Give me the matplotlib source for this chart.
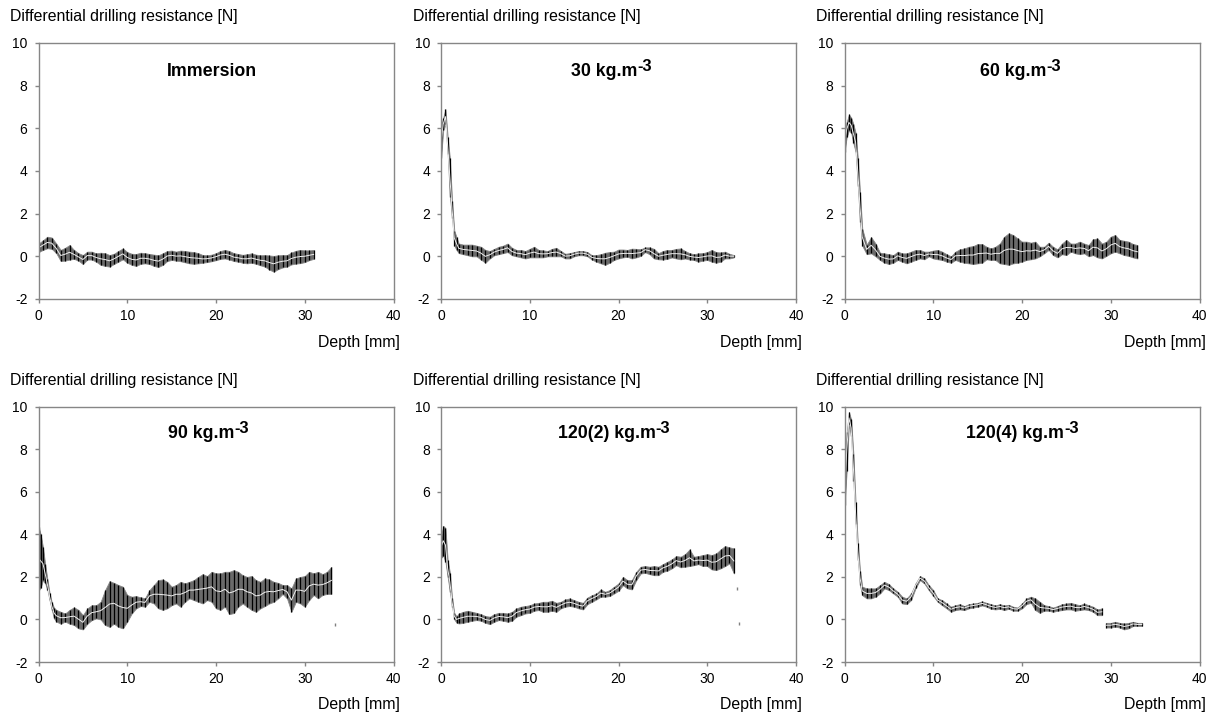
import numpy as np
import matplotlib
matplotlib.use('Agg')
import matplotlib.pyplot as plt

plt.rcParams['font.family'] = ['Liberation Sans', 'DejaVu Sans']
plt.rcParams['axes.unicode_minus'] = False

# depth grids [mm]: fine near the surface peak, then every 0.5 mm
head = [0, 0.25, 0.5, 0.75, 1.0, 1.25, 1.5, 1.75]

# --- Immersion ---
imm_depth = np.arange(0, 31.01, 0.5)
imm_hi = [0.60, 0.75, 0.92, 0.88, 0.60, 0.30, 0.40, 0.53, 0.30, 0.15,
          0.06, 0.22, 0.22, 0.14, 0.17, 0.15, 0.06, 0.12, 0.25, 0.37,
          0.20, 0.12, 0.11, 0.17, 0.15, 0.11, 0.08, 0.05, 0.14, 0.25,
          0.27, 0.22, 0.27, 0.25, 0.22, 0.20, 0.15, 0.06, 0.05, 0.08,
          0.15, 0.25, 0.30, 0.25, 0.15, 0.11, 0.07, 0.10, 0.14, 0.08,
          0.05, 0.06, 0.04, 0.02, 0.05, 0.06, 0.06, 0.18, 0.26, 0.30,
          0.28, 0.28, 0.30]
imm_lo = [0.20, 0.30, 0.38, 0.35, 0.15, -0.22, -0.20, -0.15, -0.12, -0.20,
          -0.36, -0.15, -0.15, -0.25, -0.40, -0.45, -0.48, -0.36, -0.25, -0.14,
          -0.30, -0.40, -0.45, -0.35, -0.33, -0.36, -0.45, -0.50, -0.40, -0.22,
          -0.17, -0.20, -0.23, -0.28, -0.33, -0.35, -0.33, -0.30, -0.27, -0.23,
          -0.18, -0.12, -0.10, -0.15, -0.22, -0.25, -0.30, -0.33, -0.30, -0.35,
          -0.42, -0.48, -0.62, -0.72, -0.60, -0.52, -0.48, -0.38, -0.34, -0.32,
          -0.27, -0.18, -0.12]

# --- 30 kg/m3 ---
d30_depth = np.r_[head, np.arange(2, 33.01, 0.5)]
d30_hi = [6.1, 6.5, 6.9, 5.6, 4.6, 2.6, 1.2, 0.9,
          0.6, 0.55, 0.55, 0.55, 0.5, 0.45, 0.3, 0.25, 0.35, 0.45,
          0.5, 0.6, 0.4, 0.3, 0.3, 0.25, 0.35, 0.45, 0.3, 0.28,
          0.25, 0.35, 0.4, 0.25, 0.12, 0.15, 0.2, 0.25, 0.25, 0.2,
          0.05, 0.06, 0.1, 0.17, 0.2, 0.22, 0.32, 0.32, 0.3, 0.36,
          0.35, 0.33, 0.42, 0.42, 0.35, 0.15, 0.25, 0.3, 0.3, 0.35,
          0.37, 0.25, 0.15, 0.1, 0.14, 0.15, 0.2, 0.3, 0.2, 0.18,
          0.22, 0.12, 0.06]
d30_lo = [4.6, 5.9, 6.2, 4.8, 2.8, 1.8, 0.5, 0.3,
          0.15, 0.1, 0.05, 0.0, 0.0, -0.15, -0.3, -0.1, 0.05, 0.1,
          0.15, 0.2, 0.05, 0.0, -0.05, -0.1, -0.05, -0.05, -0.05, -0.05,
          0.0, 0.0, 0.0, 0.0, -0.1, -0.1, 0.0, 0.05, 0.05, 0.0,
          -0.15, -0.25, -0.33, -0.4, -0.3, -0.17, -0.1, -0.05, -0.02, -0.1,
          -0.05, 0.02, 0.2, 0.1, -0.1, -0.14, -0.15, -0.12, -0.05, -0.1,
          -0.14, -0.1, -0.15, -0.17, -0.25, -0.2, -0.17, -0.25, -0.3, -0.25,
          -0.1, -0.1, -0.05]

# --- 60 kg/m3 ---
d60_depth = np.r_[head, np.arange(2, 33.01, 0.5)]
d60_hi = [5.8, 6.3, 6.65, 6.5, 6.2, 5.8, 4.6, 3.0,
          1.3, 0.55, 0.9, 0.6, 0.17, 0.14, 0.1, 0.06, 0.22, 0.14,
          0.14, 0.22, 0.3, 0.3, 0.22, 0.22, 0.27, 0.3, 0.22, 0.1,
          0.0, 0.22, 0.33, 0.37, 0.45, 0.48, 0.58, 0.58, 0.45, 0.37,
          0.45, 0.6, 0.92, 1.08, 1.0, 0.84, 0.69, 0.69, 0.64, 0.69,
          0.45, 0.45, 0.64, 0.45, 0.33, 0.6, 0.77, 0.6, 0.6, 0.69,
          0.6, 0.53, 0.8, 0.84, 0.6, 0.69, 0.92, 1.0, 0.77, 0.73,
          0.69, 0.58, 0.53]
d60_lo = [4.9, 5.6, 5.9, 5.8, 5.3, 4.9, 3.3, 1.6,
          0.5, 0.1, 0.14, 0.0, -0.17, -0.3, -0.36, -0.3, -0.17, -0.25,
          -0.33, -0.25, -0.17, -0.1, -0.14, 0.0, -0.1, -0.14, -0.17, -0.25,
          -0.3, -0.17, -0.25, -0.3, -0.33, -0.36, -0.33, -0.3, -0.14, -0.17,
          -0.17, -0.33, -0.36, -0.4, -0.33, -0.3, -0.25, -0.17, -0.14, -0.1,
          0.0, 0.14, 0.3, 0.06, -0.05, 0.1, 0.06, 0.22, 0.14, 0.1,
          0.14, 0.0, 0.06, -0.05, -0.1, 0.02, 0.14, 0.22, 0.14, 0.06,
          0.02, -0.05, -0.1]

# --- 90 kg/m3 ---
d90_depth = np.r_[head, np.arange(2, 33.01, 0.5)]
d90_hi = [4.36, 4.0, 3.4, 2.6, 1.9, 1.25, 0.8, 0.55,
          0.45, 0.36, 0.28, 0.45, 0.57, 0.45, 0.2, 0.52, 0.67, 0.67,
          0.83, 1.38, 1.8, 1.72, 1.62, 1.54, 1.15, 1.07, 1.1, 1.04,
          1.0, 1.38, 1.62, 1.85, 1.88, 1.77, 1.54, 1.62, 1.77, 1.7,
          1.77, 1.85, 2.0, 2.13, 2.04, 2.24, 2.17, 2.17, 2.24, 2.24,
          2.32, 2.24, 2.08, 2.0, 2.04, 1.85, 1.77, 1.93, 1.88, 1.77,
          1.72, 1.62, 1.62, 1.46, 1.93, 2.0, 2.04, 2.24, 2.17, 2.24,
          2.13, 2.24, 2.47]
d90_lo = [1.38, 1.5, 1.85, 1.7, 1.4, 0.9, 0.45, 0.05,
          -0.1, -0.2, -0.1, -0.2, -0.26, -0.42, -0.47, -0.2, -0.03, 0.05,
          0.0, -0.26, -0.35, -0.2, -0.35, -0.42, -0.1, 0.28, 0.52, 0.63,
          0.6, 0.83, 0.75, 0.52, 0.45, 0.52, 0.67, 0.75, 0.6, 0.83,
          0.99, 0.91, 0.83, 0.75, 0.91, 0.83, 0.52, 0.45, 0.6, 0.25,
          0.3, 0.6, 0.75, 0.6, 0.45, 0.36, 0.52, 0.63, 0.75, 0.83,
          0.99, 1.2, 0.99, 0.36, 0.83, 0.75, 0.6, 0.91, 1.15, 0.99,
          1.15, 1.2, 1.2]
d90_stray_depth = [33.4]
d90_stray_val = [-0.25]

# --- 120(2) kg/m3 ---
d1202_depth = np.r_[head, np.arange(2, 33.01, 0.5)]
d1202_hi = [3.9, 4.4, 4.3, 2.8, 2.2, 1.0, 0.3, 0.15,
            0.28, 0.36, 0.41, 0.36, 0.31, 0.25, 0.16, 0.13, 0.25, 0.31,
            0.31, 0.28, 0.36, 0.52, 0.6, 0.63, 0.67, 0.75, 0.78, 0.83,
            0.83, 0.88, 0.78, 0.83, 0.94, 0.99, 0.91, 0.83, 0.78, 1.03,
            1.14, 1.22, 1.41, 1.3, 1.38, 1.54, 1.69, 2.0, 1.85, 1.85,
            2.24, 2.48, 2.51, 2.48, 2.51, 2.48, 2.6, 2.71, 2.82, 2.98,
            2.95, 3.07, 3.29, 2.95, 2.98, 3.03, 3.07, 3.03, 3.1, 3.29,
            3.45, 3.39, 3.34]
d1202_lo = [2.9, 3.0, 2.7, 2.0, 1.3, 0.6, 0.0, -0.15,
            -0.19, -0.16, -0.11, -0.06, -0.03, -0.06, -0.16, -0.22, -0.11, -0.03,
            -0.06, -0.11, -0.06, 0.13, 0.2, 0.28, 0.31, 0.41, 0.44, 0.36,
            0.36, 0.41, 0.36, 0.52, 0.6, 0.63, 0.6, 0.52, 0.47, 0.72,
            0.83, 0.94, 1.07, 1.07, 1.1, 1.22, 1.35, 1.61, 1.46, 1.41,
            1.85, 2.16, 2.19, 2.13, 2.08, 2.08, 2.24, 2.29, 2.4, 2.55,
            2.45, 2.48, 2.51, 2.55, 2.6, 2.51, 2.51, 2.35, 2.32, 2.4,
            2.51, 2.63, 2.16]
d1202_stray_depth = [33.3, 33.6]
d1202_stray_val = [1.45, -0.2]

# --- 120(4) kg/m3 (two measured segments) ---
d1204_depth = np.r_[head, np.arange(2, 29.01, 0.5)]
d1204_hi = [6.8, 8.8, 9.75, 9.4, 7.8, 5.5, 3.6, 2.3,
            1.54, 1.46, 1.46, 1.46, 1.61, 1.77, 1.66, 1.46, 1.3, 1.07,
            0.99, 1.22, 1.69, 2.04, 1.93, 1.61, 1.38, 0.99, 0.91, 0.75,
            0.6, 0.67, 0.72, 0.63, 0.72, 0.75, 0.78, 0.85, 0.78, 0.72,
            0.66, 0.72, 0.66, 0.69, 0.6, 0.56, 0.75, 0.99, 1.07, 0.99,
            0.83, 0.67, 0.63, 0.56, 0.63, 0.72, 0.75, 0.78, 0.72, 0.67,
            0.75, 0.67, 0.6, 0.47, 0.52]
d1204_lo = [5.4, 7.0, 9.2, 8.6, 6.5, 4.5, 2.8, 1.6,
            1.14, 0.99, 0.99, 1.07, 1.22, 1.46, 1.38, 1.22, 1.07, 0.75,
            0.72, 0.91, 1.46, 1.85, 1.69, 1.38, 1.1, 0.83, 0.67, 0.52,
            0.36, 0.44, 0.47, 0.44, 0.52, 0.56, 0.6, 0.66, 0.6, 0.5,
            0.47, 0.5, 0.44, 0.5, 0.41, 0.41, 0.52, 0.72, 0.78, 0.44,
            0.31, 0.41, 0.41, 0.36, 0.41, 0.44, 0.47, 0.47, 0.41, 0.44,
            0.47, 0.44, 0.36, 0.2, 0.2]
d1204_tail_depth = np.arange(29.5, 33.51, 0.5)
d1204_tail_hi = [-0.16, -0.16, -0.11, -0.16, -0.19, -0.16, -0.11, -0.16, -0.16]
d1204_tail_lo = [-0.38, -0.38, -0.34, -0.38, -0.47, -0.42, -0.31, -0.31, -0.31]

# panel titles: (main text, superscript)
titles = [('Immersion', ''), ('30 kg.m', '-3'), ('60 kg.m', '-3'),
          ('90 kg.m', '-3'), ('120(2) kg.m', '-3'), ('120(4) kg.m', '-3')]
title_x = [0.489, 0.481, 0.497, 0.48, 0.487, 0.501]
series = [
    [(imm_depth, imm_lo, imm_hi)],
    [(d30_depth, d30_lo, d30_hi)],
    [(d60_depth, d60_lo, d60_hi)],
    [(d90_depth, d90_lo, d90_hi)],
    [(d1202_depth, d1202_lo, d1202_hi)],
    [(d1204_depth, d1204_lo, d1204_hi), (d1204_tail_depth, d1204_tail_lo, d1204_tail_hi)],
]
strays = [None, None, None, (d90_stray_depth, d90_stray_val), (d1202_stray_depth, d1202_stray_val), None]


def draw_band(ax, depth, lo, hi):
    lo = np.asarray(lo)
    hi = np.asarray(hi)
    mid = (lo + hi) / 2
    ax.fill_between(depth, lo, hi, color='#6a6a6a', lw=0.6, edgecolor='#8a8a8a')
    ax.vlines(depth, lo, hi, color='black', lw=0.9)
    ax.plot(depth, mid, color='#f0f0f0', lw=0.7)


W, H = 1215, 715
fig = plt.figure(figsize=(W / 100, H / 100), dpi=100)
renderer = fig.canvas.get_renderer()
lefts = [38.5, 441, 844.5]
rows = [(43, 299), (406.7, 662)]
spine_col = '#868686'
title_size = 12.8

for i in range(6):
    r, c = divmod(i, 3)
    top, bot = rows[r]
    ax = fig.add_axes([lefts[c] / W, 1 - bot / H, 355 / W, (bot - top) / H])
    for seg in series[i]:
        draw_band(ax, *seg)
    if strays[i] is not None:
        sd, sv = strays[i]
        ax.vlines(sd, np.array(sv) - 0.06, np.array(sv) + 0.06, color='#808080', lw=1.0)

    ax.set_xlim(0, 40)
    ax.set_ylim(-2, 10)
    ax.set_xticks(np.arange(0, 41, 10))
    ax.set_yticks(np.arange(-2, 11, 2))
    for s in ax.spines.values():
        s.set_color(spine_col)
        s.set_linewidth(1.0)
    ax.tick_params(axis='both', direction='out', length=3, width=1, color=spine_col,
                   labelsize=10, labelcolor='black')
    ax.tick_params(axis='x', pad=4)
    ax.tick_params(axis='y', pad=5)

    # title with full-size raised superscript, centred as a whole
    main, sup = titles[i]
    ty = 0.872 if r == 0 else 0.878
    t_main = ax.text(0, ty, main, transform=ax.transAxes, ha='left', va='baseline',
                     fontsize=title_size, fontweight='bold')
    w_main = t_main.get_window_extent(renderer).width
    w_sup = 0
    t_sup = None
    if sup:
        t_sup = ax.text(0, ty, sup, transform=ax.transAxes, ha='left', va='baseline',
                        fontsize=title_size * 0.92, fontweight='bold')
        w_sup = t_sup.get_window_extent(renderer).width
    ax_w = ax.get_window_extent(renderer).width
    ax_h = ax.get_window_extent(renderer).height
    x0 = title_x[i] - (w_main + w_sup) / 2 / ax_w
    t_main.set_x(x0)
    if t_sup is not None:
        t_sup.set_position((x0 + w_main / ax_w, ty + 5 / ax_h))

    ax.annotate('Differential drilling resistance [N]', xy=(0, 1), xycoords='axes fraction',
                xytext=(-28, 26), textcoords='offset pixels', ha='left', va='center', fontsize=11.4)
    ax.annotate('Depth [mm]', xy=(1, 0), xycoords='axes fraction',
                xytext=(6, -43), textcoords='offset pixels', ha='right', va='center', fontsize=11.4)

fig.savefig('out.png', dpi=100)
